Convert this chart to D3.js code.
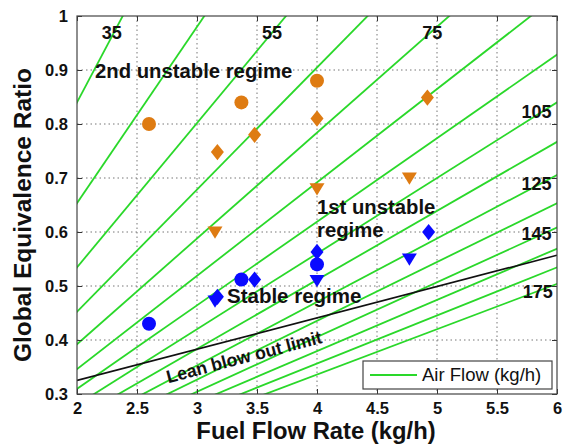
<!DOCTYPE html>
<html><head><meta charset="utf-8">
<script src="https://cdn.jsdelivr.net/npm/d3@7/dist/d3.min.js"></script>
<style>
body{margin:0;background:#fff;}
text{font-family:"Liberation Sans",Arial,Helvetica,sans-serif;}
</style></head>
<body><svg id="c" width="571" height="446"></svg>
<script>
// ---- data ----
const xTicks = [2, 2.5, 3, 3.5, 4, 4.5, 5, 5.5, 6];
const xTickLabels = ["2", "2.5", "3", "3.5", "4", "4.5", "5", "5.5", "6"];
const yTicks = [0.3, 0.4, 0.5, 0.6, 0.7, 0.8, 0.9, 1];
const yTickLabels = ["0.3", "0.4", "0.5", "0.6", "0.7", "0.8", "0.9", "1"];
const airFlows = [35, 45, 55, 65, 75, 85, 95, 105, 115, 125, 135, 145, 155, 165, 175]; // kg/h
const stoichAFR = 14.7;
const airLabelText = ["35", "55", "75", "105", "125", "145", "175"];
const airLabelPos = [[2.29, 0.966], [3.625, 0.966], [4.96, 0.966], [5.83, 0.82], [5.83, 0.687], [5.83, 0.594], [5.84, 0.487]];
const lboLine = [[2, 0.325], [6, 0.557]];
// orange (unstable) points
const orangeCircles = [[2.6, 0.80], [3.37, 0.84], [4.0, 0.88]];
const orangeDiamonds = [[3.17, 0.748], [3.48, 0.78], [4.0, 0.81], [4.92, 0.849]];
const orangeTriangles = [[3.15, 0.60], [4.0, 0.68], [4.77, 0.70]];
// blue (stable) points
const blueCircles = [[2.6, 0.43], [3.37, 0.512], [4.0, 0.54]];
const blueDiamonds = [[3.17, 0.48], [3.48, 0.512], [4.0, 0.563], [4.93, 0.60]];
const blueTriangles = [[3.15, 0.472], [4.0, 0.51], [4.77, 0.55]];

// ---- layout ----
const svg = d3.select("#c");
const L = 77, R = 557, T = 16, B = 394;
const x = d3.scaleLinear().domain([2, 6]).range([L, R]);
const y = d3.scaleLinear().domain([0.3, 1]).range([B, T]);
const ORANGE = "#de7b12", BLUE = "#0a0aff", GREEN = "#2ad82a";

svg.append("defs").append("clipPath").attr("id", "clip")
  .append("rect").attr("x", L).attr("y", T).attr("width", R - L).attr("height", B - T);

// grid
const grid = svg.append("g").attr("stroke", "#777").attr("stroke-width", 1).attr("stroke-dasharray", "1.5,3");
grid.selectAll(".gx").data(xTicks.slice(1, -1)).join("line")
  .attr("x1", d => x(d)).attr("x2", d => x(d)).attr("y1", T).attr("y2", B);
grid.selectAll(".gy").data(yTicks.slice(1, -1)).join("line")
  .attr("y1", d => y(d)).attr("y2", d => y(d)).attr("x1", L).attr("x2", R);

// air flow lines
const line = d3.line().x(d => x(d[0])).y(d => y(d[1]));
const gL = svg.append("g").attr("clip-path", "url(#clip)");
gL.selectAll("path.air").data(airFlows).join("path")
  .attr("fill", "none").attr("stroke", GREEN).attr("stroke-width", 1.8)
  .attr("d", a => line([[1.5, stoichAFR * 1.5 / a], [6.5, stoichAFR * 6.5 / a]]));
gL.append("path").attr("fill", "none").attr("stroke", "#111").attr("stroke-width", 1.7)
  .attr("d", line(lboLine));

// axes (ticks inside, box)
const tickLen = 5;
const axB = svg.append("g").attr("transform", `translate(0,${B})`)
  .call(d3.axisBottom(x).tickValues(xTicks).tickFormat((d, i) => xTickLabels[i]).tickSizeInner(-tickLen).tickSizeOuter(0).tickPadding(8));
const axT = svg.append("g").attr("transform", `translate(0,${T})`)
  .call(d3.axisTop(x).tickValues(xTicks).tickFormat("").tickSizeInner(-tickLen).tickSizeOuter(0));
const axLf = svg.append("g").attr("transform", `translate(${L},0)`)
  .call(d3.axisLeft(y).tickValues(yTicks).tickFormat((d, i) => yTickLabels[i]).tickSizeInner(-tickLen).tickSizeOuter(0).tickPadding(9));
const axRt = svg.append("g").attr("transform", `translate(${R},0)`)
  .call(d3.axisRight(y).tickValues(yTicks).tickFormat("").tickSizeInner(-tickLen).tickSizeOuter(0));
[axB, axT, axLf, axRt].forEach(a => {
  a.select(".domain").remove();
  a.selectAll("line").attr("stroke", "#333");
  a.selectAll("text").attr("font-size", 16.5).attr("fill", "#111")
    .attr("font-family", "'Liberation Sans',Arial,sans-serif").attr("font-weight", "600");
});
svg.append("rect").attr("x", L).attr("y", T).attr("width", R - L).attr("height", B - T)
  .attr("fill", "none").attr("stroke", "#444").attr("stroke-width", 1.2);

// markers
function diamondPath(s) { return `M0,${-s * 1.25}L${s},0L0,${s * 1.25}L${-s},0Z`; }
function triPath(s) { return `M${-s},${-s * 0.75}L${s},${-s * 0.75}L0,${s * 0.9}Z`; }
const gM = svg.append("g");
function drawSet(data, kind, color) {
  const sel = gM.selectAll(null).data(data);
  if (kind === "c") {
    sel.join("circle").attr("cx", d => x(d[0])).attr("cy", d => y(d[1])).attr("r", 7).attr("fill", color);
  } else {
    sel.join("path").attr("transform", d => `translate(${x(d[0])},${y(d[1])})`)
      .attr("d", kind === "d" ? diamondPath(6.5) : triPath(7.5)).attr("fill", color);
  }
}
drawSet(orangeCircles, "c", ORANGE);
drawSet(orangeDiamonds, "d", ORANGE);
drawSet(orangeTriangles, "t", ORANGE);
drawSet(blueCircles, "c", BLUE);
drawSet(blueTriangles, "t", BLUE);
drawSet(blueDiamonds, "d", BLUE);

// air flow labels
svg.append("g").selectAll("text").data(airLabelText).join("text")
  .attr("x", (d, i) => x(airLabelPos[i][0])).attr("y", (d, i) => y(airLabelPos[i][1]))
  .attr("text-anchor", "middle").attr("dominant-baseline", "middle")
  .attr("font-size", 18).attr("font-weight", "bold").attr("fill", "#111").text(d => d);

// regime annotations
function ann(t, fx, fy, size) {
  svg.append("text").attr("x", x(fx)).attr("y", y(fy)).attr("dominant-baseline", "middle")
    .attr("font-size", size).attr("font-weight", "bold").attr("fill", "#111").text(t);
}
ann("2nd unstable regime", 2.15, 0.895, 20.3);
ann("1st unstable", 4.0, 0.644, 20.3);
ann("regime", 4.0, 0.60, 20.3);
ann("Stable regime", 3.25, 0.478, 20.5);

// lean blow out label
const ang = Math.atan2(y(lboLine[1][1]) - y(lboLine[0][1]), x(lboLine[1][0]) - x(lboLine[0][0])) * 180 / Math.PI;
svg.append("text").attr("transform", `translate(${x(2.76)},${y(0.32)}) rotate(${ang})`)
  .attr("font-size", 18).attr("fill", "#111").attr("font-weight", "600")
  .attr("textLength", 160).attr("lengthAdjust", "spacingAndGlyphs").text("Lean blow out limit");

// legend
const lg = svg.append("g");
lg.append("rect").attr("x", 363).attr("y", 361).attr("width", 189).attr("height", 28)
  .attr("fill", "#fff").attr("stroke", "#444").attr("stroke-width", 1.2);
lg.append("line").attr("x1", 370).attr("x2", 417).attr("y1", 375).attr("y2", 375)
  .attr("stroke", GREEN).attr("stroke-width", 1.8);
lg.append("text").attr("x", 422).attr("y", 376).attr("dominant-baseline", "middle")
  .attr("font-size", 18.5).attr("fill", "#111").text("Air Flow (kg/h)");

// axis titles
svg.append("text").attr("x", 316).attr("y", 433).attr("text-anchor", "middle")
  .attr("dominant-baseline", "middle").attr("font-size", 23.8).attr("font-weight", "bold").attr("fill", "#111")
  .text("Fuel Flow Rate (kg/h)");
svg.append("text").attr("transform", `translate(25,215) rotate(-90)`).attr("text-anchor", "middle")
  .attr("dominant-baseline", "middle").attr("font-size", 24.5).attr("font-weight", "bold").attr("fill", "#111")
  .text("Global Equivalence Ratio");
</script></body></html>
